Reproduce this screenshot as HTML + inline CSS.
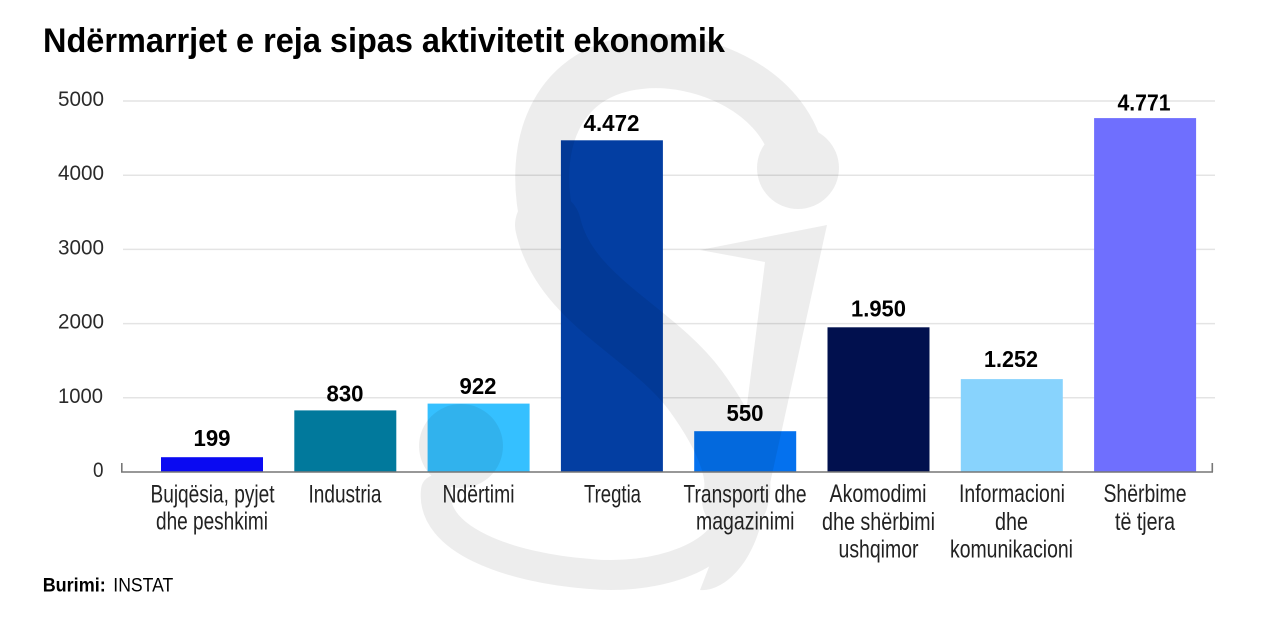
<!DOCTYPE html>
<html>
<head>
<meta charset="utf-8">
<style>
  html, body { margin: 0; padding: 0; background: #ffffff; }
  body { width: 1280px; height: 622px; overflow: hidden; }
  svg { display: block; }
  text { font-family: "Liberation Sans", Arial, sans-serif; }
</style>
</head>
<body>
<svg width="1280" height="622" viewBox="0 0 1280 622" xmlns="http://www.w3.org/2000/svg">
  <rect x="0" y="0" width="1280" height="622" fill="#ffffff"/>

  <!-- Title -->
  <text x="43" y="52" font-size="34" font-weight="bold" fill="#000" textLength="682" lengthAdjust="spacingAndGlyphs">Ndërmarrjet e reja sipas aktivitetit ekonomik</text>

  <!-- Gridlines -->
  <g stroke="#e4e4e4" stroke-width="1.5">
    <line x1="123" y1="101" x2="1215" y2="101"/>
    <line x1="123" y1="175.2" x2="1215" y2="175.2"/>
    <line x1="123" y1="249.4" x2="1215" y2="249.4"/>
    <line x1="123" y1="323.6" x2="1215" y2="323.6"/>
    <line x1="123" y1="397.8" x2="1215" y2="397.8"/>
  </g>

  <!-- Y axis labels -->
  <g font-size="21.5" fill="#2a2a2a">
    <text x="58" y="106" textLength="46" lengthAdjust="spacingAndGlyphs">5000</text>
    <text x="58" y="180" textLength="46" lengthAdjust="spacingAndGlyphs">4000</text>
    <text x="58" y="254.5" textLength="46" lengthAdjust="spacingAndGlyphs">3000</text>
    <text x="58" y="328.5" textLength="46" lengthAdjust="spacingAndGlyphs">2000</text>
    <text x="58" y="403" textLength="45" lengthAdjust="spacingAndGlyphs">1000</text>
    <text x="93" y="477" textLength="10.5" lengthAdjust="spacingAndGlyphs">0</text>
  </g>

  <!-- Bars -->
  <rect x="161" y="457.2" width="102" height="14.8" fill="#0a0af2"/>
  <rect x="294.3" y="410.4" width="102" height="61.6" fill="#01799c"/>
  <rect x="427.6" y="403.6" width="102" height="68.4" fill="#35c0ff"/>
  <rect x="560.9" y="140.3" width="102" height="331.7" fill="#033ea2"/>
  <rect x="694.2" y="431.2" width="102" height="40.8" fill="#0471ee"/>
  <rect x="827.5" y="327.3" width="102" height="144.7" fill="#01104e"/>
  <rect x="960.8" y="379.1" width="102" height="92.9" fill="#88d3fd"/>
  <rect x="1094.1" y="118.1" width="102" height="353.9" fill="#6f6ffe"/>

  <!-- Watermark (faint logo) -->
  <g opacity="0.065" fill="#000" stroke="#000">
    <path d="M 800 168 C 790 90, 700 55, 640 62 C 560 70, 528 140, 548 225" fill="none" stroke-width="54" stroke-linecap="round"/>
    <path d="M 548 225 C 565 300, 650 330, 695 390 C 735 445, 742 480, 735 500" fill="none" stroke-width="66" stroke-linecap="round"/>
    <path d="M 735 500 C 735 560, 650 580, 590 574 C 510 568, 430 540, 436 490" fill="none" stroke-width="30" stroke-linecap="round"/>
    <circle cx="798" cy="168" r="41" stroke="none"/>
    <circle cx="461" cy="446" r="42" stroke="none"/>
    <path d="M 700 250 L 827 225 L 762 520 C 750 570, 720 592, 700 590 L 735 500 L 765 262 Z" stroke="none"/>
  </g>

  <!-- X axis -->
  <g stroke="#777" stroke-width="1.6" fill="none">
    <line x1="121" y1="472" x2="1213" y2="472"/>
    <line x1="121.8" y1="463" x2="121.8" y2="472"/>
    <line x1="1212.3" y1="463" x2="1212.3" y2="472"/>
  </g>

  <!-- Value labels -->
  <g font-size="23" font-weight="bold" fill="#000">
    <text x="193.5" y="446" textLength="37" lengthAdjust="spacingAndGlyphs">199</text>
    <text x="326.5" y="401.5" textLength="37" lengthAdjust="spacingAndGlyphs">830</text>
    <text x="459.5" y="394" textLength="37" lengthAdjust="spacingAndGlyphs">922</text>
    <text x="583.5" y="131" textLength="56" lengthAdjust="spacingAndGlyphs">4.472</text>
    <text x="726.5" y="421" textLength="37" lengthAdjust="spacingAndGlyphs">550</text>
    <text x="851" y="316.5" textLength="55" lengthAdjust="spacingAndGlyphs">1.950</text>
    <text x="984" y="367" textLength="54" lengthAdjust="spacingAndGlyphs">1.252</text>
    <text x="1117.5" y="110.5" textLength="53" lengthAdjust="spacingAndGlyphs">4.771</text>
  </g>

  <!-- Category labels -->
  <g font-size="25" fill="#222">
    <text x="150.5" y="502.5" textLength="124" lengthAdjust="spacingAndGlyphs">Bujqësia, pyjet</text>
    <text x="156" y="529.5" textLength="112" lengthAdjust="spacingAndGlyphs">dhe peshkimi</text>

    <text x="308.5" y="502.5" textLength="73" lengthAdjust="spacingAndGlyphs">Industria</text>

    <text x="442.5" y="502.5" textLength="72" lengthAdjust="spacingAndGlyphs">Ndërtimi</text>

    <text x="584" y="502.5" textLength="57" lengthAdjust="spacingAndGlyphs">Tregtia</text>

    <text x="683.5" y="502.5" textLength="123" lengthAdjust="spacingAndGlyphs">Transporti dhe</text>
    <text x="696" y="529.5" textLength="98.5" lengthAdjust="spacingAndGlyphs">magazinimi</text>

    <text x="829.5" y="502" textLength="97" lengthAdjust="spacingAndGlyphs">Akomodimi</text>
    <text x="822" y="530" textLength="113" lengthAdjust="spacingAndGlyphs">dhe shërbimi</text>
    <text x="838.5" y="557.5" textLength="80" lengthAdjust="spacingAndGlyphs">ushqimor</text>

    <text x="959" y="502" textLength="106" lengthAdjust="spacingAndGlyphs">Informacioni</text>
    <text x="995" y="530" textLength="33" lengthAdjust="spacingAndGlyphs">dhe</text>
    <text x="950" y="557.5" textLength="123" lengthAdjust="spacingAndGlyphs">komunikacioni</text>

    <text x="1103.5" y="502" textLength="83" lengthAdjust="spacingAndGlyphs">Shërbime</text>
    <text x="1115" y="530" textLength="60" lengthAdjust="spacingAndGlyphs">të tjera</text>
  </g>

  <!-- Source -->
  <text x="42.7" y="591.5" font-size="19" font-weight="bold" fill="#000" textLength="63" lengthAdjust="spacingAndGlyphs">Burimi:</text>
  <text x="113.3" y="591.5" font-size="19" fill="#000" textLength="60" lengthAdjust="spacingAndGlyphs">INSTAT</text>
</svg>
</body>
</html>
